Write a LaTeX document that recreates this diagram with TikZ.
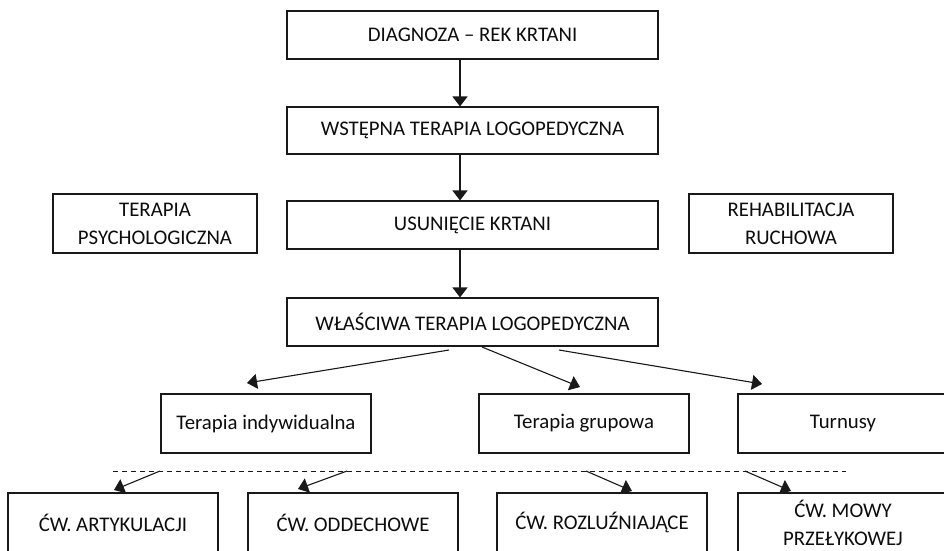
\documentclass[tikz,border=0pt]{standalone}
\usepackage{fontspec}
\setmainfont{Carlito}
\usetikzlibrary{arrows.meta,calc}
\begin{document}
\begin{tikzpicture}[x=1pt,y=-1pt,
  box/.style={draw=black!90, line width=1.1pt, inner sep=0pt, align=center,
    font=\fontsize{20.8}{28}\selectfont, text=black!95},
  wide/.style={box, minimum width=371pt, minimum height=48pt},
  side/.style={box, minimum width=204pt, minimum height=59pt},
  mid/.style={box, minimum width=210pt, minimum height=59pt},
  arr/.style={line width=1.1pt, draw=black!90, -{Triangle[length=10pt,width=15pt]}},
  sep/.style={line width=1pt, draw=black!90, dash pattern=on 5pt off 4pt},
]
\useasboundingbox (0,0) rectangle (944,550);
\fill[white] (0,0) rectangle (944,550);
\clip (0,0) rectangle (944,550);

% main column
\node[wide] (d1) at (472.5,35)  {DIAGNOZA – REK KRTANI};
\node[wide, minimum height=47pt] (d2) at (472.5,130.5) {WSTĘPNA TERAPIA LOGOPEDYCZNA};
\node[wide] (d3) at (472.5,225) {USUNIĘCIE KRTANI};
\node[wide] (d4) at (472.5,322) {WŁAŚCIWA TERAPIA LOGOPEDYCZNA};

% side boxes
\node[side] (psych) at (155,223.5) {TERAPIA\\PSYCHOLOGICZNA};
\node[side] (rehab) at (791,223.5) {REHABILITACJA\\RUCHOWA};

% second level
\node[mid] (ind)  at (266,423.5) {Terapia indywidualna};
\node[mid] (grp)  at (584,423.5) {Terapia grupowa};
\node[mid] (turn) at (843,423.5) {Turnusy};

% bottom level
\node[mid] (art)  at (113,522.5) {ĆW. ARTYKULACJI};
\node[mid] (odd)  at (353,522.5) {ĆW. ODDECHOWE};
\node[mid] (roz)  at (602,522.5) {ĆW. ROZLUŹNIAJĄCE};
\node[mid] (mowy) at (843,522.5) {ĆW. MOWY\\PRZEŁYKOWEJ};

% vertical arrows
\draw[arr] ([xshift=-12.5pt]d1.south) -- ([xshift=-12.5pt]d2.north);
\draw[arr] ([xshift=-12.5pt]d2.south) -- ([xshift=-12.5pt]d3.north);
\draw[arr] ([xshift=-12.5pt]d3.south) -- ([xshift=-12.5pt]d4.north);

% fan-out from d4
\coordinate (sL) at (449,350);
\coordinate (sM) at (482,347);
\coordinate (sR) at (559,350);
\coordinate (tL) at (247,383);
\coordinate (tM) at (580,387);
\coordinate (tR) at (762,384);
\draw[arr] (sL) -- (tL);
\draw[arr] (sM) -- (tM);
\draw[arr] (sR) -- (tR);

% dashed separator
\coordinate (dA) at (113,471);
\coordinate (dB) at (846,471);
\draw[sep] (dA) -- (dB);

% arrows from separator
\coordinate (a1) at (160,471);
\coordinate (a2) at (347,471);
\coordinate (a3) at (586,471);
\coordinate (a4) at (745,471);
\coordinate (b1) at (114,490);
\coordinate (b2) at (298,489);
\coordinate (b3) at (632,491);
\coordinate (b4) at (791,491);
\draw[arr] (a1) -- (b1);
\draw[arr] (a2) -- (b2);
\draw[arr] (a3) -- (b3);
\draw[arr] (a4) -- (b4);
\end{tikzpicture}
\end{document}
